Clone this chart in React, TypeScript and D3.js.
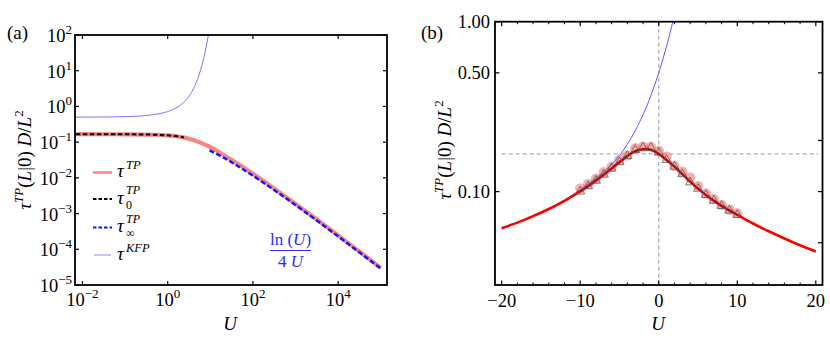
import React from "react";
import * as d3 from "d3";

// ---------- Panel (a) data ----------
const uTP_a = [0.007, 0.03, 0.1, 0.3, 0.5, 1, 1.5, 2, 3, 4, 6, 8, 10, 15, 20, 30, 50, 100, 300, 1000, 3000, 10000, 30000, 100000];
const tauTP_a = [0.1667, 0.1666, 0.1656, 0.163, 0.161, 0.154, 0.147, 0.14, 0.127, 0.1145, 0.0956, 0.0824, 0.073, 0.0557, 0.0444, 0.03315, 0.02245, 0.01296, 0.005234, 0.001871, 0.0007153, 0.0002447, 0.0000907, 0.00003022];

const uT0_a = [0.007, 0.1, 0.3, 0.6, 1, 1.5, 2, 2.4];
const tauT0_a = [0.1667, 0.1656, 0.1635, 0.16, 0.155, 0.148, 0.141, 0.135];

const uTinf_a = [9.6, 20, 50, 100, 300, 1000, 3000, 10000, 30000, 100000];
const tauTinf_a = [0.0589, 0.03745, 0.01956, 0.01151, 0.004753, 0.001727, 0.0006672, 0.0002303, 0.00008591, 0.00002878];

const uKFP_a = [0.007, 0.05, 0.1, 0.2, 0.4, 0.7, 1, 1.5, 2, 2.5, 3, 4, 5, 6, 7, 8, 9, 9.5];
const tauKFP_a = [0.5012, 0.5084, 0.5171, 0.5351, 0.5738, 0.6404, 0.7183, 0.8808, 1.0973, 1.3892, 1.7873, 3.0999, 5.6965, 11.06, 22.22, 46.43, 99.91, 147.9];

const yTickExpA = [-5, -4, -3, -2, -1, 0, 1, 2];
const xTickExpA = [-2, 0, 2, 4];

// ---------- Panel (b) data ----------
const uTP_b = [-20, -18, -16, -14, -12, -10, -9, -8, -7, -6, -5, -4, -3, -2, -1, 0, 1, 2, 3, 4, 5, 6, 7, 8, 9, 10, 12, 14, 16, 18, 20];
const tauTP_b = [0.0609, 0.0657, 0.0717, 0.079, 0.0883, 0.1003, 0.1076, 0.1161, 0.1259, 0.1369, 0.1491, 0.162, 0.1729, 0.1776, 0.1764, 0.1666, 0.1536, 0.1403, 0.1268, 0.1145, 0.1041, 0.0956, 0.0885, 0.0824, 0.0774, 0.073, 0.0649, 0.0584, 0.053, 0.0483, 0.0444];

const uKFP_b = [-20, -18, -16, -14, -12, -10, -8, -7, -6, -5, -4, -3, -2, -1.5, -1, -0.5, 0, 0.5, 1, 1.5, 2, 2.2];
const tauKFP_b = [0.0612, 0.066, 0.072, 0.0795, 0.0892, 0.1025, 0.12, 0.131, 0.145, 0.163, 0.19, 0.228, 0.284, 0.32, 0.368, 0.426, 0.5, 0.595, 0.718, 0.881, 1.097, 1.2];

const uMarkers = [-10, -9, -8, -7, -6, -5, -4, -3, -2, -1, 0, 1, 2, 3, 4, 5, 6, 7, 8, 9, 10];
const tauCircles = [0.1045, 0.111, 0.119, 0.13, 0.14, 0.154, 0.163, 0.18, 0.184, 0.184, 0.174, 0.161, 0.142, 0.131, 0.121, 0.108, 0.0975, 0.0905, 0.0835, 0.0785, 0.0745];
const tauTriangles = [0.1003, 0.1076, 0.1161, 0.1259, 0.1369, 0.1491, 0.162, 0.176, 0.182, 0.181, 0.17, 0.1536, 0.1403, 0.1268, 0.1135, 0.1041, 0.0956, 0.0885, 0.0824, 0.0774, 0.073];

const refTau = 0.1667;
const refU = 0;

const yTicksLeftB = [1.0, 0.5, 0.1];
const yTickLabelsB = ["1.00", "0.50", "0.10"];
const yTicksRightB = [1.0, 0.5, 0.2, 0.1, 0.05];
const xTicksB = [-20, -10, 0, 10, 20];
const xMinorB = [-18, -16, -14, -12, -8, -6, -4, -2, 2, 4, 6, 8, 12, 14, 16, 18];

const FONT = "'Liberation Serif', 'Times New Roman', 'DejaVu Serif', serif";

function pts(xs: number[], ys: number[]) {
  return xs.map((x, i) => [x, ys[i]] as [number, number]);
}

export default function App() {
  // Panel (a) scales
  const A = { l: 75, r: 387, t: 35, b: 285 };
  const xA = d3.scaleLog().domain([0.00668, 140000]).range([A.l, A.r]);
  const yA = d3.scaleLog().domain([1e-5, 1e2]).range([A.b, A.t]);
  const lineA = d3
    .line<[number, number]>()
    .x((d) => xA(d[0]))
    .y((d) => yA(d[1]))
    .curve(d3.curveMonotoneX);

  // Panel (b) scales
  const B = { l: 495, r: 822.5, t: 21.7, b: 285 };
  const xB = d3.scaleLinear().domain([-20.85, 20.85]).range([B.l, B.r]);
  const yB = d3.scaleLog().domain([0.0282, 1]).range([B.b, B.t]);
  const lineB = d3
    .line<[number, number]>()
    .x((d) => xB(d[0]))
    .y((d) => yB(d[1]))
    .curve(d3.curveNatural);
  const lineBK = d3
    .line<[number, number]>()
    .x((d) => xB(d[0]))
    .y((d) => yB(d[1]))
    .curve(d3.curveCatmullRom.alpha(0.5));

  const tpB = pts(uTP_b, tauTP_b);
  const blackB = tpB.filter((d) => d[0] >= -10 && d[0] <= 10);

  const triPath = (cx: number, cy: number) => {
    const s = 9;
    const h = (s * Math.sqrt(3)) / 2;
    return `M${cx},${cy - (2 * h) / 3}L${cx + s / 2},${cy + h / 3}L${cx - s / 2},${cy + h / 3}Z`;
  };

  const tickFS = 18.5;
  const supFS = 13;

  return (
    <svg width={830} height={347} style={{ display: "block", position: "absolute", left: 0, top: 0, background: "#fff" }} fontFamily={FONT}>
      <defs>
        <clipPath id="clipA">
          <rect x={A.l} y={A.t} width={A.r - A.l} height={A.b - A.t} />
        </clipPath>
        <clipPath id="clipB">
          <rect x={B.l} y={B.t} width={B.r - B.l} height={B.b - B.t} />
        </clipPath>
      </defs>

      {/* ================= Panel (a) ================= */}
      <text x={7} y={39} fontSize={19}>(a)</text>

      <g clipPath="url(#clipA)">
        <path d={lineA(pts(uKFP_a, tauKFP_a)) || ""} fill="none" stroke="#7878ff" strokeWidth={1} />
        <path d={lineA(pts(uTP_a, tauTP_a)) || ""} fill="none" stroke="#f88484" strokeWidth={4.2} />
        <path d={lineA(pts(uT0_a, tauT0_a)) || ""} fill="none" stroke="#000" strokeWidth={2} strokeDasharray="4.5,2.5" />
        <path d={lineA(pts(uTinf_a, tauTinf_a)) || ""} fill="none" stroke="#1414ff" strokeWidth={2.5} strokeDasharray="5,2.5" />
      </g>

      {/* ticks (a) */}
      {yTickExpA.map((e) => {
        const y = yA(Math.pow(10, e));
        return (
          <g key={"ya" + e}>
            <line x1={A.l} x2={A.l + 4} y1={y} y2={y} stroke="#000" strokeWidth={1.2} />
            <line x1={A.r} x2={A.r - 4} y1={y} y2={y} stroke="#000" strokeWidth={1.2} />
            <text x={72} y={y + 7} fontSize={tickFS} textAnchor="end">
              10<tspan dy={-8} fontSize={supFS}>{e < 0 ? "\u2212" + Math.abs(e) : String(e)}</tspan>
            </text>
          </g>
        );
      })}
      {xTickExpA.map((e) => {
        const x = xA(Math.pow(10, e));
        return (
          <g key={"xa" + e}>
            <line x1={x} x2={x} y1={A.b} y2={A.b - 4} stroke="#000" strokeWidth={1.2} />
            <line x1={x} x2={x} y1={A.t} y2={A.t + 4} stroke="#000" strokeWidth={1.2} />
            <text x={x} y={306} fontSize={tickFS} textAnchor="middle">
              10<tspan dy={-8} fontSize={supFS}>{e < 0 ? "\u2212" + Math.abs(e) : String(e)}</tspan>
            </text>
          </g>
        );
      })}
      <rect x={A.l} y={A.t} width={A.r - A.l} height={A.b - A.t} fill="none" stroke="#000" strokeWidth={1.8} />

      {/* axis titles (a) */}
      <text x={230} y={330} fontSize={19} fontStyle="italic" textAnchor="middle">U</text>
      <text transform="translate(31,160) rotate(-90)" fontSize={19} textAnchor="middle">
        <tspan fontStyle="italic">τ</tspan>
        <tspan dy={-8} fontSize={13} fontStyle="italic">TP</tspan>
        <tspan dy={8}>(</tspan>
        <tspan fontStyle="italic">L</tspan>
        <tspan>|0) </tspan>
        <tspan fontStyle="italic">D</tspan>
        <tspan>/</tspan>
        <tspan fontStyle="italic">L</tspan>
        <tspan dy={-8} fontSize={13}>2</tspan>
      </text>

      {/* legend (a) */}
      <line x1={93} x2={112} y1={172.5} y2={172.5} stroke="#f88484" strokeWidth={2.5} />
      <text x={117} y={177} fontSize={19} fontStyle="italic">τ</text>
      <text x={126} y={168.5} fontSize={12.5} fontStyle="italic">TP</text>

      <line x1={93} x2={112} y1={199} y2={199} stroke="#000" strokeWidth={2} strokeDasharray="3.5,2" />
      <text x={117} y={203.5} fontSize={19} fontStyle="italic">τ</text>
      <text x={126} y={194} fontSize={12} fontStyle="italic">TP</text>
      <text x={126} y={208.5} fontSize={12}>0</text>

      <line x1={93} x2={112} y1={227.5} y2={227.5} stroke="#1414ff" strokeWidth={2.2} strokeDasharray="3.5,2" />
      <text x={117} y={232} fontSize={19} fontStyle="italic">τ</text>
      <text x={126} y={222.5} fontSize={12} fontStyle="italic">TP</text>
      <text x={126} y={236.5} fontSize={12}>∞</text>

      <line x1={94} x2={111} y1={255} y2={255} stroke="#8888ff" strokeWidth={1} />
      <text x={117} y={259.5} fontSize={19} fontStyle="italic">τ</text>
      <text x={126} y={251.5} fontSize={12.5} fontStyle="italic">KFP</text>

      {/* annotation (a) */}
      <text x={290.5} y={245} fontSize={17} fill="#2a2aff" textAnchor="middle">
        ln (<tspan fontStyle="italic">U</tspan>)
      </text>
      <line x1={270} x2={311} y1={250.5} y2={250.5} stroke="#2a2aff" strokeWidth={1} />
      <text x={290.5} y={266.5} fontSize={17} fill="#2a2aff" textAnchor="middle">
        4 <tspan fontStyle="italic">U</tspan>
      </text>

      {/* ================= Panel (b) ================= */}
      <text x={421} y={39} fontSize={19}>(b)</text>

      <g clipPath="url(#clipB)">
        <line x1={xB(refU)} x2={xB(refU)} y1={B.t} y2={B.b} stroke="#999" strokeWidth={1} strokeDasharray="4,3" />
        <line x1={xB(-20)} x2={xB(20.3)} y1={yB(refTau)} y2={yB(refTau)} stroke="#999" strokeWidth={1} strokeDasharray="4,3" />
        {uMarkers.map((u, i) => (
          <circle key={"c" + u} cx={xB(u)} cy={yB(tauCircles[i])} r={5.2} fill="#f07070" fillOpacity={0.55} />
        ))}
        <path d={lineBK(pts(uKFP_b, tauKFP_b)) || ""} fill="none" stroke="#5a5aff" strokeWidth={1} />
        <path d={lineB(tpB) || ""} fill="none" stroke="#ff0000" strokeWidth={2.6} />
        <path d={lineB(blackB) || ""} fill="none" stroke="#222" strokeWidth={0.8} />
        {uMarkers.map((u, i) => (
          <path key={"t" + u} d={triPath(xB(u), yB(tauTriangles[i]))} fill="none" stroke="#555" strokeWidth={0.8} />
        ))}
      </g>

      {/* ticks (b) */}
      {yTicksLeftB.map((v, i) => {
        const y = yB(v);
        return (
          <g key={"ybl" + v}>
            <line x1={B.l} x2={B.l + 4.5} y1={y} y2={y} stroke="#000" strokeWidth={1.2} />
            <text x={490} y={y + 6.5} fontSize={tickFS} textAnchor="end">{yTickLabelsB[i]}</text>
          </g>
        );
      })}
      {yTicksRightB.map((v) => {
        const y = yB(v);
        return <line key={"ybr" + v} x1={B.r} x2={B.r - 4.5} y1={y} y2={y} stroke="#000" strokeWidth={1.2} />;
      })}
      {xTicksB.map((v) => {
        const x = xB(v);
        return (
          <g key={"xb" + v}>
            <line x1={x} x2={x} y1={B.b} y2={B.b - 4.5} stroke="#000" strokeWidth={1.2} />
            <line x1={x} x2={x} y1={B.t} y2={B.t + 4.5} stroke="#000" strokeWidth={1.2} />
            <text x={x} y={307} fontSize={tickFS} textAnchor="middle">{v < 0 ? "\u2212" + Math.abs(v) : String(v)}</text>
          </g>
        );
      })}
      {xMinorB.map((v) => {
        const x = xB(v);
        return (
          <g key={"xbm" + v}>
            <line x1={x} x2={x} y1={B.b} y2={B.b - 2.5} stroke="#000" strokeWidth={1} />
            <line x1={x} x2={x} y1={B.t} y2={B.t + 2.5} stroke="#000" strokeWidth={1} />
          </g>
        );
      })}
      <rect x={B.l} y={B.t} width={B.r - B.l} height={B.b - B.t} fill="none" stroke="#000" strokeWidth={1.8} />

      <text x={658} y={330} fontSize={19} fontStyle="italic" textAnchor="middle">U</text>
      <text transform="translate(451,150) rotate(-90)" fontSize={19} textAnchor="middle">
        <tspan fontStyle="italic">τ</tspan>
        <tspan dy={-8} fontSize={13} fontStyle="italic">TP</tspan>
        <tspan dy={8}>(</tspan>
        <tspan fontStyle="italic">L</tspan>
        <tspan>|0) </tspan>
        <tspan fontStyle="italic">D</tspan>
        <tspan>/</tspan>
        <tspan fontStyle="italic">L</tspan>
        <tspan dy={-8} fontSize={13}>2</tspan>
      </text>
    </svg>
  );
}
